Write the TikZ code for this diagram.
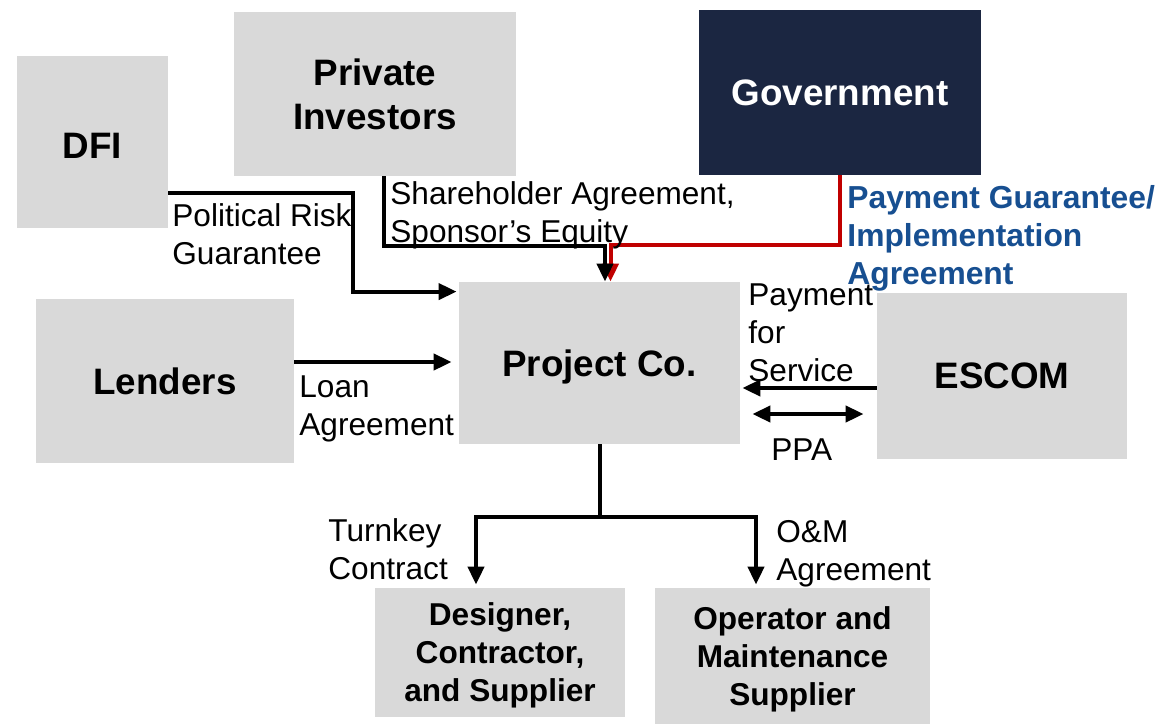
\documentclass[tikz,border=0pt]{standalone}
\usepackage{fontspec}
\setmainfont{Liberation Sans}
\usetikzlibrary{arrows.meta}
\definecolor{Gfill}{RGB}{217,217,217}
\definecolor{Nfill}{RGB}{27,38,65}
\definecolor{Rline}{RGB}{192,0,0}
\definecolor{Btext}{RGB}{23,79,145}
\begin{document}
\begin{tikzpicture}[x=0.5pt,y=-0.5pt,line join=miter,>={Triangle[length=9pt,width=8pt]},
  box/.style={rectangle,fill=Gfill,inner sep=0pt,align=center,font=\bfseries\fontsize{18.4}{22}\selectfont},
  sbox/.style={box,font=\bfseries\fontsize{15.8}{19}\selectfont},
  lbl/.style={anchor=north west,inner sep=0pt,align=left,font=\fontsize{15.8}{19}\selectfont},
  conn/.style={line width=2pt,->}]
\path[use as bounding box] (0,0) rectangle (1155,724);
\node[box,text height=16pt,text depth=0pt,minimum width=75.5pt,minimum height=86pt] (dfi) at (92.5,142) {DFI};
\node[box,minimum width=141pt,minimum height=82pt] (inv) at (375,94) {Private\\Investors};
\node[box,fill=Nfill,text=white,minimum width=141pt,minimum height=82.5pt] (gov) at (840,92.5) {Government};
\node[box,minimum width=129pt,minimum height=82pt] (lend) at (165,381) {Lenders};
\node[box,text depth=-2pt,minimum width=140.5pt,minimum height=81pt] (proj) at (599.5,363) {Project Co.};
\node[box,minimum width=125pt,minimum height=83pt] (esc) at (1002,376) {ESCOM};
\node[sbox,text depth=-3pt,minimum width=125pt,minimum height=64.5pt] (des) at (500,652.5) {Designer,\\Contractor,\\and Supplier};
\node[sbox,text depth=-2pt,minimum width=137.5pt,minimum height=68pt] (ops) at (792.5,656) {Operator and\\Maintenance\\Supplier};
\draw[conn,draw=Rline] (gov.south) |- ([xshift=5.5pt,yshift=18.5pt]proj.north) -- ([xshift=5.5pt]proj.north);
\draw[conn] ([xshift=75pt]inv.south west) |- ([xshift=2.75pt,yshift=18pt]proj.north) -- ([xshift=2.75pt]proj.north);
\draw[conn,shorten >=1pt] ([yshift=17.5pt]dfi.south east) -| ([xshift=-53pt,yshift=-5pt]proj.north west) -- ([yshift=-5pt]proj.north west);
\draw[conn,shorten >=3.5pt] ([yshift=9.5pt]lend.east) -- ([yshift=9.5pt]lend.east -| proj.west);
\draw[conn,shorten >=1pt] ([yshift=-6pt]esc.west) -- ([yshift=-6pt]esc.west -| proj.east);
\draw[conn,<->,shorten <=6pt,shorten >=6.5pt] ([yshift=-25.5pt]proj.east) -- ([yshift=-25.5pt]proj.east -| esc.west);
\coordinate (split) at ([yshift=-36.5pt]proj.south);
\draw[line width=2pt] (proj.south) -- (split);
\draw[conn,shorten >=1.5pt] (split) -| ([xshift=-12pt]des.north);
\draw[conn,shorten >=1.5pt] (split) -| ([xshift=-18.25pt]ops.north);
\node[lbl] (prg) at (172,203) {Political Risk\\Guarantee};
\node[lbl] (sha) at (390,181) {Shareholder Agreement,\\Sponsor’s Equity};
\node[lbl,text=Btext,font=\bfseries\fontsize{15.9}{19}\selectfont] (pga) at (847,185) {Payment Guarantee/\\Implementation\\Agreement};
\node[lbl] (pfs) at (748,283) {Payment\\for\\Service};
\node[lbl] (ppa) at (771,438) {PPA};
\node[lbl] (loan) at (299,375) {Loan\\Agreement};
\node[lbl] (tkc) at (328,518) {Turnkey\\Contract};
\node[lbl] (oma) at (776,520) {O\&M\\Agreement};
\end{tikzpicture}
\end{document}
